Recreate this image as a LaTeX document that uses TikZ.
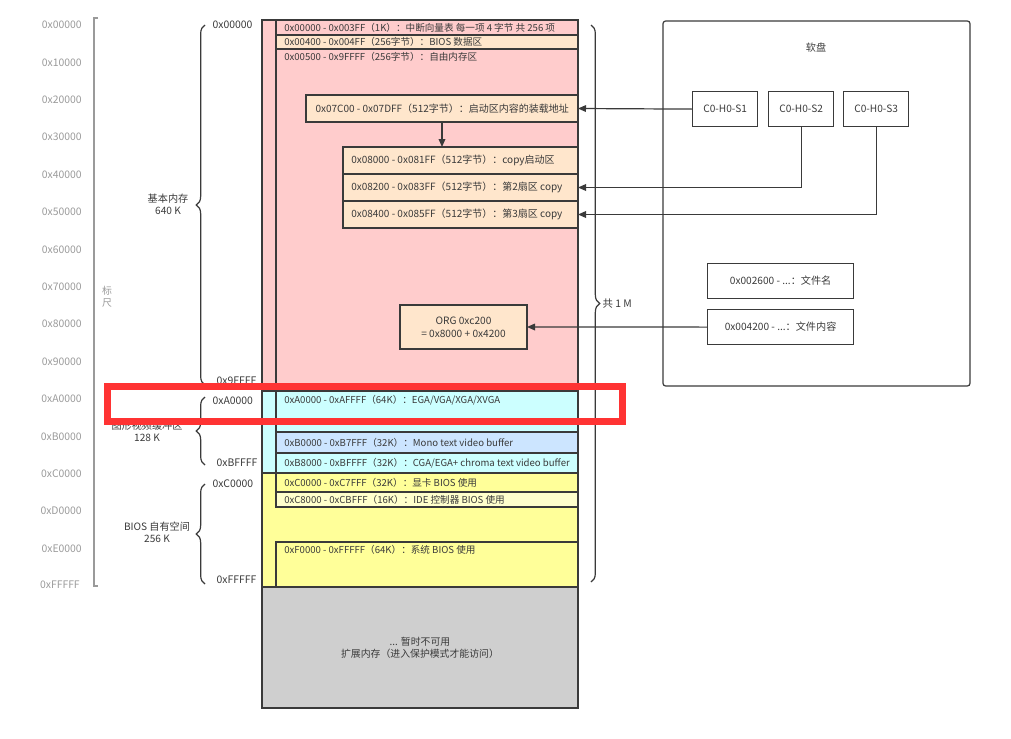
\documentclass[tikz,border=0pt]{standalone}
\usepackage{fontspec}
\setmainfont{Noto Sans CJK SC}
\usetikzlibrary{positioning,arrows.meta,calc,decorations.pathreplacing}
\definecolor{lineInk}{HTML}{3A3A3A}
\definecolor{rulerGray}{HTML}{9A9A9A}
\definecolor{lowPink}{HTML}{FFCCCC}
\definecolor{bootPeach}{HTML}{FFE6CC}
\definecolor{vgaCyan}{HTML}{CCFFFF}
\definecolor{monoBlue}{HTML}{CCE5FF}
\definecolor{biosYellow}{HTML}{FFFF99}
\definecolor{paleYellow}{HTML}{FFFFCC}
\definecolor{extGray}{HTML}{CFCFCF}
\definecolor{markRed}{HTML}{FF3333}

\begin{document}
\begin{tikzpicture}[x=0.75pt, y=-0.75pt, >={Triangle[length=6pt,width=5pt]},
      font=\fontsize{7.6}{9}\selectfont, text=lineInk,
      mem/.style={draw=lineInk, line width=0.9pt, anchor=north west, inner sep=0pt, outer sep=0pt},
      seg/.style={mem, minimum width=226.5pt},
      sector/.style={draw=lineInk, line width=0.9pt, anchor=north west, minimum width=48.75pt, minimum height=26.25pt, inner sep=0pt},
      filebox/.style={sector, minimum width=109.5pt},
      rowtext/.style={anchor=west, inner sep=0pt, font=\fontsize{7.2}{8}\selectfont},
      toptext/.style={anchor=north west, inner sep=0pt, font=\fontsize{7.2}{8}\selectfont},
      boxtext/.style={anchor=west, inner sep=0pt, font=\fontsize{7.5}{8.5}\selectfont},
      ruler/.style={anchor=east, inner sep=0pt, text=rulerGray, font=\fontsize{7.8}{9}\selectfont},
      addr/.style={anchor=west, inner sep=1pt, font=\fontsize{7.8}{9}\selectfont},
      spanname/.style={align=center, font=\fontsize{7.6}{9}\selectfont},
      span/.style={draw=lineInk, line width=0.9pt, decorate, decoration={brace, amplitude=6.5pt}},
      link/.style={->, draw=lineInk, line width=0.9pt}]
    \useasboundingbox (0,0) rectangle (1011,739);
    % ---- ruler on the left
    \foreach \addr [count=\i from 0] in {00000,10000,20000,30000,40000,50000,60000,70000,80000,90000,A0000,B0000,C0000,D0000,E0000}
      \node[ruler] (tick\i) at (82,25+37.4*\i) {0x\addr};
    \node[ruler] (tickEnd) at (80,585) {0xFFFFF};
    \draw[rulerGray, line width=1.4pt] (98,18) -- (94,18) -- (94,586) -- (98,586);
    \node[text=rulerGray, align=center, font=\fontsize{7.4}{9}\selectfont] (rulerName) at (107,297) {标\\尺};
    % ---- the four big areas
    \node[mem, fill=lowPink, minimum width=237pt, minimum height=278.25pt] (lowMem) at (262,20) {};
    \node[mem, fill=vgaCyan, minimum width=237pt, minimum height=61.5pt] (vidMem) at (262,391) {};
    \node[mem, fill=biosYellow, minimum width=237pt, minimum height=85.5pt] (romMem) at (262,473) {};
    \node[mem, fill=extGray, minimum width=237pt, minimum height=90.75pt, align=center, font=\fontsize{7.4}{9}\selectfont] (extMem) at (262,587)
      {... 暂时不可用\\扩展内存（进入保护模式才能访问）};
    % ---- 0x00000 - 0x9FFFF
    \node[seg, fill=lowPink, minimum height=11.25pt] (ivt) at (276,20) {};
    \node[rowtext] at ([xshift=6pt]ivt.west) {0x00000 - 0x003FF（1K）：中断向量表 每一项 4 字节 共 256 项};
    \node[seg, fill=bootPeach, minimum height=10.5pt] (bda) at (276,35) {};
    \node[rowtext] at ([xshift=6pt]bda.west) {0x00400 - 0x004FF（256字节）：BIOS 数据区};
    \node[seg, fill=lowPink, minimum height=256.5pt] (freeMem) at (276,49) {};
    \node[toptext] at ([xshift=6pt,yshift=-2.5pt]freeMem.north west) {0x00500 - 0x9FFFF（256字节）：自由内存区};
    \node[mem, fill=bootPeach, minimum width=204pt, minimum height=20.25pt] (boot) at (306,95) {};
    \node[boxtext] at ([xshift=7pt]boot.west) {0x07C00 - 0x07DFF（512字节）：启动区内容的装载地址};
    \node[mem, fill=bootPeach, minimum width=176.25pt, minimum height=20.25pt] (copyA) at (343,147) {};
    \node[boxtext] at ([xshift=6pt]copyA.west) {0x08000 - 0x081FF（512字节）：copy启动区};
    \node[mem, fill=bootPeach, minimum width=176.25pt, minimum height=20.25pt] (copyB) at (343,174) {};
    \node[boxtext] at ([xshift=6pt]copyB.west) {0x08200 - 0x083FF（512字节）：第2扇区 copy};
    \node[mem, fill=bootPeach, minimum width=176.25pt, minimum height=20.25pt] (copyC) at (343,201) {};
    \node[boxtext] at ([xshift=6pt]copyC.west) {0x08400 - 0x085FF（512字节）：第3扇区 copy};
    \node[mem, fill=bootPeach, minimum width=95.25pt, minimum height=33pt, align=center, font=\fontsize{7.6}{9.5}\selectfont] (org) at (400,305)
      {ORG 0xc200\\= 0x8000 + 0x4200};
    \draw[link] (boot.south) -- (boot.south |- copyA.north);
    % ---- 0xA0000 - 0xBFFFF
    \node[seg, fill=vgaCyan, minimum height=30.75pt] (vga) at (276,391) {};
    \node[toptext] at ([xshift=6pt,yshift=-3pt]vga.north west) {0xA0000 - 0xAFFFF（64K）：EGA/VGA/XGA/XVGA};
    \node[seg, fill=monoBlue, minimum height=15.75pt] (mono) at (276,432) {};
    \node[rowtext] at ([xshift=6pt]mono.west) {0xB0000 - 0xB7FFF（32K）：Mono text video buffer};
    \node[seg, fill=vgaCyan, minimum height=15pt] (cga) at (276,453) {};
    \node[rowtext] at ([xshift=6pt]cga.west) {0xB8000 - 0xBFFFF（32K）：CGA/EGA+ chroma text video buffer};
    % ---- 0xC0000 - 0xFFFFF
    \node[seg, fill=biosYellow, minimum height=14.25pt] (vbios) at (276,473) {};
    \node[rowtext] at ([xshift=6pt]vbios.west) {0xC0000 - 0xC7FFF（32K）：显卡 BIOS 使用};
    \node[seg, fill=paleYellow, minimum height=11.25pt] (ide) at (276,492) {};
    \node[rowtext] at ([xshift=6pt]ide.west) {0xC8000 - 0xCBFFF（16K）：IDE 控制器 BIOS 使用};
    \node[seg, fill=biosYellow, minimum height=33.75pt] (sbios) at (276,542) {};
    \node[toptext] at ([xshift=6pt,yshift=-2.5pt]sbios.north west) {0xF0000 - 0xFFFFF（64K）：系统 BIOS 使用};
    % ---- braces
    \draw[span] (205,385) -- (205,25);
    \node[addr] (lowTop) at (211,25) {0x00000};
    \node[addr] (lowEnd) at (215,381) {0x9FFFF};
    \node[spanname] (lowName) at (168,204) {基本内存\\640 K};
    \draw[span] (205,465) -- (205,397);
    \node[addr] (vidTop) at (211,401) {0xA0000};
    \node[addr] (vidEnd) at (215,463) {0xBFFFF};
    \node[spanname] (vidName) at (147,431) {图形视频缓冲区\\128 K};
    \draw[span] (205,584) -- (205,484);
    \node[addr] (romTop) at (211,484) {0xC0000};
    \node[addr] (romEnd) at (215,580) {0xFFFFF};
    \node[spanname] (romName) at (157,532) {BIOS 自有空间\\256 K};
    \draw[span] (591,25) -- (591,582);
    \node[addr] (allName) at (601,304) {共 1 M};
    % ---- the floppy disk
    \node[mem, rounded corners=2pt, minimum width=230.25pt, minimum height=273.75pt] (disk) at (663,21) {};
    \node (diskName) at (816,48) {软盘};
    \node[sector] (s1) at (692,91) {C0-H0-S1};
    \node[sector] (s2) at (768,91) {C0-H0-S2};
    \node[sector] (s3) at (843,91) {C0-H0-S3};
    \node[filebox] (fname) at (707,263) {0x002600 - ...：文件名};
    \node[filebox] (fbody) at (707,309) {0x004200 - ...：文件内容};
    \draw[link] (s1.west) -- (boot.east);
    \draw[link] (s2.south) |- (copyB.east);
    \draw[link] (s3.south) |- (copyC.east);
    \draw[link] (fbody.west) -- (org.east);
    % ---- red mark
    \draw[markRed, line width=5.25pt] (107.5,386.5) rectangle (622.5,421.5);
  \end{tikzpicture}
\end{document}
